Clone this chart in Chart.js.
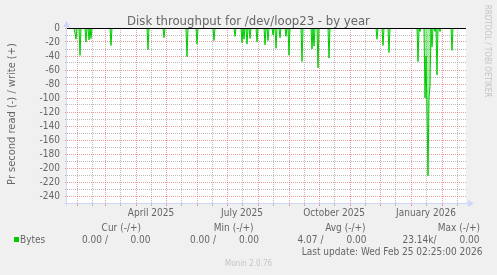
<!DOCTYPE html>
<html><head><meta charset="utf-8">
<script src="https://cdn.jsdelivr.net/npm/chart.js@4/dist/chart.umd.min.js"></script>
<style>html,body{margin:0;padding:0;background:#f0f0f0;overflow:hidden}canvas{display:block}</style>
</head><body>
<canvas id="c" width="497" height="275"></canvas>
<script>
// ---------------- data ----------------
const title = 'Disk throughput for /dev/loop23 - by year';
const yAxisTitle = 'Pr second read (-) / write (+)';
const startDate = '2025-01-22';          // left edge of the graph (day 0)
const endDate = '2026-02-25';            // right edge of the graph
// daily average read rate (bytes/s), plotted below zero; days not listed read 0
const readSpikeDays   = [8, 9, 13, 19, 22, 24, 44, 81, 97, 120, 130, 147, 168, 175, 177, 180, 183, 190,
                         198, 201, 206, 209, 213, 219, 222, 235, 245, 247, 251, 262, 310, 316, 322,
                         351, 353, 358, 359, 360, 361, 362, 363, 365, 368, 370, 373, 385];
const readSpikeValues = [8, 16, 39, 20, 17, 15, 25, 31, 14, 41, 23, 18, 12, 21, 16, 23, 15, 20,
                         24, 18, 10, 29, 14, 12, 39, 48, 30, 26, 57, 43, 16, 25, 35,
                         48, 5, 100, 40, 120, 211, 100, 84, 27, 5, 67, 5, 32];
// daily average write rate: zero all year
const writeSpikeDays = [];
const writeSpikeValues = [];
const monthStartDates = ['2025-02-01','2025-03-01','2025-04-01','2025-05-01','2025-06-01','2025-07-01',
                         '2025-08-01','2025-09-01','2025-10-01','2025-11-01','2025-12-01','2026-01-01','2026-02-01'];
const midMonthDates = ['2025-02-16','2025-03-16','2025-04-16','2025-05-16','2025-06-16','2025-07-16',
                       '2025-08-16','2025-09-16','2025-10-16','2025-11-16','2025-12-16','2026-01-16','2026-02-16'];
const xLabelDates = ['2025-04-16','2025-07-16','2025-10-16','2026-01-16'];
const xLabels = ['April 2025','July 2025','October 2025','January 2026'];
const yMin = -250, yMax = 0;
const yMajorTicks = [0,-20,-40,-60,-80,-100,-120,-140,-160,-180,-200,-220,-240];
const yMinorTicks = [-10,-30,-50,-70,-90,-110,-130,-150,-170,-190,-210,-230];
const seriesName = 'Bytes';
const statHeaders = ['Cur (-/+)','Min (-/+)','Avg (-/+)','Max (-/+)'];
const readStats  = ['0.00 ','0.00 ','4.07 ','23.14k'];
const writeStats = ['0.00','0.00','0.00','0.00'];
const lastUpdate = 'Last update: Wed Feb 25 02:25:00 2026';
const watermark = 'RRDTOOL / TOBI OETIKER';
const version = 'Munin 2.0.76';

// ---------------- helpers ----------------
const DAY = 86400000;
function dayOf(s){ const [y,m,d] = s.split('-').map(Number); const [y0,m0,d0] = startDate.split('-').map(Number);
  return (Date.UTC(y,m-1,d) - Date.UTC(y0,m0-1,d0)) / DAY; }
const lastDay = dayOf(endDate);
function daily(days, vals, sign){
  const out = [];
  for (let d = 0; d <= lastDay; d++) out.push({x:d, y:0});
  days.forEach((d,i)=>{ out[d].y = sign*vals[i]; });
  return out;
}
function hasFont(name){
  const c = document.createElement('canvas').getContext('2d');
  const s = 'abcdefghijklmWMmw0123';
  c.font = '20px monospace'; const a = c.measureText(s).width;
  c.font = '20px "' + name + '", monospace'; const b = c.measureText(s).width;
  return a !== b;
}
const COND = hasFont('DejaVu Sans Condensed');
const FAM = COND ? '"DejaVu Sans Condensed", "DejaVu Sans", sans-serif' : '"DejaVu Sans", sans-serif';
const K = COND ? 1 : 0.9;
const FS = 10*K, FT = 13*K, FY = 11*K, FW = 8*K;

const FONT_COL = '#666666';
const GRID = 'rgba(143,143,143,0.6)';
const MGRID = 'rgba(222,79,79,0.55)';
const AXIS = '#cfd6f8';
const GREEN = '#00cc00';

const monthDays = monthStartDates.map(dayOf);
const midDays = midMonthDates.map(dayOf).filter(d => d <= lastDay);
const labelDays = xLabelDates.map(dayOf);
const xTickDays = monthDays.concat(midDays).sort((a,b)=>a-b);
const yTicks = yMajorTicks.concat(yMinorTicks).sort((a,b)=>a-b);

const decor = {
  id: 'decor',
  beforeDraw(chart){
    const {ctx, chartArea:a} = chart;
    ctx.save();
    ctx.fillStyle = '#f0f0f0'; ctx.fillRect(0,0,chart.width,chart.height);
    ctx.fillStyle = '#ffffff'; ctx.fillRect(a.left,a.top,a.right-a.left,a.bottom-a.top);
    ctx.restore();
  },
  afterDatasetsDraw(chart){
    const {ctx, chartArea:a, scales} = chart;
    const y0 = Math.round(scales.y.getPixelForValue(0)) + 0.5;
    const yb = Math.round(scales.y.getPixelForValue(yMin)) + 0.5;
    const xl = Math.round(scales.x.getPixelForValue(0)) - 0.5;
    ctx.save();
    ctx.strokeStyle = '#000'; ctx.lineWidth = 1;
    ctx.beginPath(); ctx.moveTo(a.left, y0); ctx.lineTo(a.right, y0); ctx.stroke();
    ctx.strokeStyle = AXIS;
    ctx.beginPath(); ctx.moveTo(xl-2, yb); ctx.lineTo(a.right+4, yb); ctx.stroke();
    ctx.beginPath(); ctx.moveTo(xl, yb+2); ctx.lineTo(xl, a.top-4); ctx.stroke();
    ctx.fillStyle = AXIS;
    ctx.beginPath(); ctx.moveTo(a.right+2, yb-3.5); ctx.lineTo(a.right+2, yb+3.5); ctx.lineTo(a.right+8, yb); ctx.closePath(); ctx.fill();
    ctx.beginPath(); ctx.moveTo(xl-3.5, a.top-1); ctx.lineTo(xl+3.5, a.top-1); ctx.lineTo(xl, a.top-7); ctx.closePath(); ctx.fill();
    ctx.restore();
  },
  afterDraw(chart){
    const {ctx} = chart;
    ctx.save();
    ctx.fillStyle = FONT_COL;
    ctx.textBaseline = 'alphabetic';
    // title
    ctx.font = FT + 'px ' + FAM; ctx.textAlign = 'center';
    ctx.fillText(title, 248.5, 25);
    // y axis title
    ctx.save(); ctx.translate(15, 114); ctx.rotate(-Math.PI/2);
    ctx.font = FY + 'px ' + FAM; ctx.textAlign = 'center'; ctx.fillText(yAxisTitle, 0, 0);
    ctx.restore();
    // legend
    ctx.font = FS + 'px ' + FAM;
    const headRight = [141, 253.5, 365.5, 480];
    const readLeft = [82, 190, 297.5, 402.5];
    const writeLeft = [130.5, 239, 346.5, 459.5];
    ctx.textAlign = 'right';
    statHeaders.forEach((h,i)=> ctx.fillText(h, headRight[i], 231));
    ctx.textAlign = 'left';
    ctx.fillText(seriesName, 20, 243);
    readStats.forEach((v,i)=> ctx.fillText(v + '/', readLeft[i], 243));
    writeStats.forEach((v,i)=> ctx.fillText(v, writeLeft[i], 243));
    ctx.fillStyle = GREEN; ctx.fillRect(14, 237, 5, 5);
    ctx.fillStyle = FONT_COL;
    ctx.textAlign = 'right';
    ctx.fillText(lastUpdate, 482.5, 255);
    // version + watermark
    ctx.fillStyle = '#c4c4c4';
    ctx.font = FW + 'px ' + FAM; ctx.textAlign = 'center';
    ctx.fillText(version, 248.5, 265.5);
    ctx.save(); ctx.translate(485, 51); ctx.rotate(Math.PI/2);
    ctx.fillText(watermark, 0, 0);
    ctx.restore();
    ctx.restore();
  }
};

new Chart(document.getElementById('c'), {
  type: 'line',
  data: {
    datasets: [
      { label: seriesName + ' read', data: daily(readSpikeDays, readSpikeValues, -1),
        borderColor: GREEN, backgroundColor: 'rgba(0,204,0,0.35)', fill: 'origin',
        borderWidth: 1, pointRadius: 0, tension: 0 },
      { label: seriesName + ' write', data: daily(writeSpikeDays, writeSpikeValues, 1),
        borderColor: GREEN, borderWidth: 1, pointRadius: 0, tension: 0, fill: false }
    ]
  },
  options: {
    responsive: false, animation: false, devicePixelRatio: 1,
    events: [],
    layout: { padding: { left: 0, right: 31, top: 28, bottom: 0 } },
    plugins: { legend: { display: false }, title: { display: false }, tooltip: { enabled: false } },
    scales: {
      x: {
        type: 'linear', min: 0, max: lastDay,
        afterBuildTicks: s => { s.ticks = xTickDays.map(v => ({ value: v })); },
        afterFit: s => { s.height = 72; },
        grid: {
          color: c => (c.tick && monthDays.includes(c.tick.value)) ? MGRID : GRID,
          tickColor: c => (c.tick && monthDays.includes(c.tick.value)) ? MGRID : GRID,
          lineWidth: 1, drawTicks: true, tickLength: 3
        },
        border: { display: false, dash: [1, 1] },
        ticks: {
          autoSkip: false, maxRotation: 0, minRotation: 0, padding: 1,
          color: FONT_COL, font: { family: FAM, size: FS },
          callback: v => { const i = labelDays.indexOf(v); return i >= 0 ? xLabels[i] : ''; }
        }
      },
      y: {
        type: 'linear', min: yMin, max: yMax,
        afterBuildTicks: s => { s.ticks = yTicks.map(v => ({ value: v })); },
        afterFit: s => { s.width = 67; },
        grid: {
          color: c => (c.tick && yMajorTicks.includes(c.tick.value)) ? MGRID : GRID,
          tickColor: c => (c.tick && yMajorTicks.includes(c.tick.value)) ? MGRID : GRID,
          lineWidth: 1, drawTicks: true, tickLength: 2
        },
        border: { display: false, dash: [1, 1] },
        ticks: {
          autoSkip: false, padding: 5,
          color: FONT_COL, font: { family: FAM, size: FS },
          callback: v => yMajorTicks.includes(v) ? String(v) : ''
        }
      }
    }
  },
  plugins: [decor]
});
</script>
</body></html>
